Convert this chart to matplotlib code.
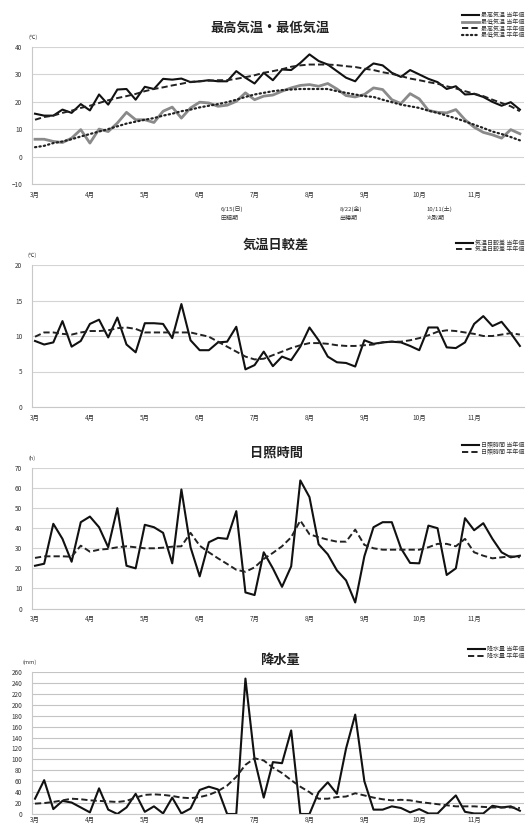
import matplotlib
matplotlib.use("Agg")
import matplotlib.pyplot as plt

plt.rcParams['font.family'] = ['Noto Sans CJK JP', 'DejaVu Sans']

# 半旬ごと（3月～11月, 54点）
months = ['3月', '4月', '5月', '6月', '7月', '8月', '9月', '10月', '11月']

tmax_now = [15.6, 14.9, 14.9, 17.1, 15.9, 19.1, 16.8, 22.6, 18.9, 24.4,
            24.6, 20.7, 25.4, 24.6, 28.3, 28.0, 28.4, 27.1, 27.4, 27.8,
            27.4, 27.4, 31.1, 28.7, 26.6, 30.5, 27.8, 31.7, 31.5, 34.1,
            37.2, 34.8, 33.5, 31.1, 28.7, 27.4, 31.5, 33.9, 33.2, 30.5,
            29.0, 31.5, 29.9, 28.3, 27.1, 24.6, 25.6, 22.6, 22.8, 21.7,
            19.9, 18.5, 19.8, 17.1]
tmin_now = [6.3, 6.3, 5.5, 5.1, 6.7, 9.8, 4.9, 10.0, 9.1, 12.2,
            16.1, 13.4, 13.4, 12.4, 16.5, 18.0, 14.0, 17.7, 19.8, 19.5,
            18.3, 18.7, 20.1, 23.2, 20.7, 22.0, 22.4, 23.8, 25.0, 25.9,
            26.2, 25.6, 26.6, 24.6, 22.2, 21.7, 22.6, 25.0, 24.4, 20.7,
            19.3, 22.9, 21.0, 16.8, 16.1, 15.9, 17.1, 13.4, 10.7, 8.8,
            7.9, 6.7, 9.8, 8.3]
tmax_norm = [13.4, 14.4, 14.9, 15.9, 16.7, 17.7, 18.5, 19.5, 20.5, 21.3,
             22.0, 22.8, 23.8, 24.6, 25.2, 25.9, 26.5, 27.2, 27.4, 27.6,
             27.8, 27.8, 28.3, 28.9, 29.6, 30.5, 31.1, 31.8, 32.7, 33.2,
             33.5, 33.5, 33.5, 33.3, 32.9, 32.6, 32.0, 31.5, 30.7, 30.1,
             29.3, 28.4, 27.8, 27.1, 26.5, 25.6, 24.8, 23.8, 22.9, 22.0,
             20.7, 19.5, 18.3, 16.5]
tmin_norm = [3.4, 3.9, 4.9, 5.5, 6.3, 7.3, 8.2, 9.1, 10.0, 11.0,
             12.0, 12.7, 13.4, 14.0, 14.9, 15.6, 16.5, 17.1, 17.9, 18.5,
             19.1, 19.8, 20.7, 21.7, 22.6, 23.2, 23.8, 24.2, 24.4, 24.6,
             24.6, 24.6, 24.6, 23.8, 23.2, 22.6, 22.0, 21.7, 20.7, 19.8,
             18.9, 18.3, 17.7, 16.7, 15.9, 14.9, 13.9, 12.8, 11.6, 10.4,
             9.1, 8.2, 7.1, 5.9]

range_now = [9.3, 8.8, 9.1, 12.1, 8.5, 9.3, 11.7, 12.3, 9.8, 12.6,
             8.8, 7.7, 11.8, 11.8, 11.7, 9.7, 14.5, 9.4, 8.0, 8.0,
             9.1, 9.2, 11.3, 5.3, 5.9, 7.8, 5.75, 7.1, 6.6, 8.5,
             11.2, 9.4, 7.1, 6.3, 6.2, 5.7, 9.4, 8.9, 9.1, 9.2,
             9.1, 8.6, 8.0, 11.2, 11.2, 8.4, 8.3, 9.1, 11.7, 12.8,
             11.4, 12.0, 10.4, 8.6]
range_norm = [9.9, 10.5, 10.5, 10.3, 10.2, 10.5, 10.7, 10.7, 10.8, 11.1,
              11.2, 11.0, 10.5, 10.5, 10.5, 10.5, 10.5, 10.5, 10.2, 9.9,
              9.2, 8.5, 7.8, 7.1, 6.7, 6.8, 7.3, 7.8, 8.3, 8.7,
              9.0, 9.0, 8.9, 8.7, 8.6, 8.6, 8.7, 8.8, 9.1, 9.2,
              9.2, 9.4, 9.7, 10.1, 10.6, 10.8, 10.7, 10.5, 10.3, 10.0,
              10.0, 10.2, 10.4, 10.2]

sun_now = [21.3, 22.3, 42.2, 34.7, 23.3, 43.0, 45.8, 40.5, 30.5, 50.0,
           21.3, 20.0, 41.7, 40.5, 37.7, 22.5, 59.3, 30.5, 16.0, 33.0,
           35.2, 34.7, 48.5, 8.0, 6.7, 28.0, 20.0, 10.8, 21.0, 63.8,
           55.5, 32.0, 27.0, 19.0, 14.0, 3.0, 26.0, 40.5, 43.0, 43.0,
           30.0, 22.7, 22.5, 41.3, 40.0, 16.7, 20.0, 45.0, 39.0, 42.5,
           34.7, 28.0, 25.5, 26.3]
sun_norm = [25.2, 26.0, 26.0, 26.0, 25.8, 31.3, 28.3, 29.3, 29.7, 30.5,
            31.0, 30.5, 30.0, 30.0, 30.3, 30.8, 31.0, 37.7, 31.3, 28.0,
            25.0, 22.2, 19.3, 18.3, 20.5, 24.7, 27.7, 31.0, 35.5, 43.8,
            37.0, 35.5, 34.3, 33.3, 33.3, 39.3, 31.7, 30.0, 29.3, 29.3,
            29.3, 29.3, 29.3, 30.5, 32.2, 32.2, 31.0, 34.7, 28.0, 26.3,
            25.0, 25.5, 26.0, 25.5]

rain_now = [28, 62, 9, 24, 21, 12, 3, 47, 8, 0,
            12, 37, 4, 14, 1, 30, 1, 10, 44, 50,
            45, 0, 0, 248, 100, 30, 95, 93, 153, 0,
            0, 40, 58, 37, 120, 182, 60, 8, 8, 14,
            11, 3, 9, 1, 1, 18, 34, 4, 1, 1,
            15, 12, 14, 6]
rain_norm = [19, 20, 22, 25, 28, 27, 25, 24, 23, 22,
             24, 30, 35, 36, 35, 33, 30, 29, 31, 35,
             42, 52, 68, 90, 102, 98, 85, 75, 62, 50,
             40, 28, 28, 31, 32, 38, 34, 30, 27, 25,
             26, 25, 22, 20, 18, 16, 14, 14, 14, 13,
             12, 12, 12, 11]

events = [(20.3, '6/15(日)', '田植期'), (33.3, '8/22(金)', '出穂期'),
          (42.8, '10/11(土)', '刈取期')]

W, H = 528, 827
fig = plt.figure(figsize=(W / 100, H / 100), dpi=100)
x = list(range(len(tmax_now)))
TXT = '#333333'
DASH = (3.2, 1.6)


def make_axes(top_px, bot_px, xpad=5):
    ax = fig.add_axes([32 / W, 1 - bot_px / H, 492 / W, (bot_px - top_px) / H])
    for s in ['top', 'right']:
        ax.spines[s].set_visible(False)
    ax.spines['left'].set_color('#c8c8c8')
    ax.spines['bottom'].set_color('#c8c8c8')
    ax.spines['left'].set_linewidth(0.8)
    ax.spines['bottom'].set_linewidth(0.8)
    ax.set_xlim(-0.33, 53.45)
    ax.set_xticks(range(0, 54, 6))
    ax.set_xticklabels(months)
    ax.tick_params(axis='both', length=0, labelsize=4.6, colors=TXT)
    ax.tick_params(axis='x', pad=xpad)
    ax.tick_params(axis='y', pad=7)
    ax.grid(axis='y', color='#d4d4d4', linewidth=0.8)
    ax.set_axisbelow(True)
    return ax


def add_title(text, cx, cy):
    fig.text(cx / W, 1 - cy / H, text, ha='center', va='center',
             fontsize=9.5, fontweight='bold', color='#222222')


def add_legend(ax, top_px):
    ax.legend(loc='upper right', bbox_to_anchor=(527 / W, 1 - top_px / H),
              bbox_transform=fig.transFigure, frameon=False, fontsize=4.3,
              handlelength=2.8, handletextpad=0.3, labelspacing=0.15,
              borderpad=0, labelcolor=TXT)


# 最高気温・最低気温
ax1 = make_axes(46.7, 184)
ax1.plot(x, tmax_now, color='#111111', lw=1.5, label='最高気温 当年値')
ax1.plot(x, tmin_now, color='#8a8a8a', lw=2.0, label='最低気温 当年値')
ax1.plot(x, tmax_norm, color='#222222', lw=1.4, dashes=DASH, label='最高気温 平年値')
ax1.plot(x, tmin_norm, color='#222222', lw=1.6, linestyle=(0, (0.6, 1.4)),
         dash_capstyle='round', label='最低気温 平年値')
ax1.set_ylim(-10, 40)
ax1.set_yticks(range(-10, 41, 10))
add_title('最高気温・最低気温', 270, 28)
add_legend(ax1, 9)
fig.text(33 / W, 1 - 37 / H, '(℃)', fontsize=4, color=TXT, ha='center', va='center')
for pos, date, stage in events:
    px = 32 + (pos + 0.33) * 492 / 53.78
    fig.text(px / W, 1 - 209 / H, date, fontsize=4.3, color=TXT, ha='left', va='center')
    fig.text(px / W, 1 - 218 / H, stage, fontsize=4.3, color=TXT, ha='left', va='center')

# 気温日較差
ax2 = make_axes(265, 407)
ax2.plot(x, range_now, color='#111111', lw=1.5, label='気温日較差 当年値')
ax2.plot(x, range_norm, color='#222222', lw=1.4, dashes=DASH, label='気温日較差 平年値')
ax2.set_ylim(0, 20)
ax2.set_yticks(range(0, 21, 5))
add_title('気温日較差', 276, 245)
add_legend(ax2, 237)
fig.text(32 / W, 1 - 255 / H, '(℃)', fontsize=4, color=TXT, ha='center', va='center')

# 日照時間
ax3 = make_axes(468, 608.5)
ax3.plot(x, sun_now, color='#111111', lw=1.5, label='日照時間 当年値')
ax3.plot(x, sun_norm, color='#222222', lw=1.4, dashes=DASH, label='日照時間 平年値')
ax3.set_ylim(0, 70)
ax3.set_yticks(range(0, 71, 10))
add_title('日照時間', 277, 452)
add_legend(ax3, 439)
fig.text(32 / W, 1 - 458 / H, '(h)', fontsize=4, color=TXT, ha='center', va='center')

# 降水量
ax4 = make_axes(672, 814, xpad=1.5)
ax4.plot(x, rain_now, color='#111111', lw=1.5, label='降水量 当年値')
ax4.plot(x, rain_norm, color='#222222', lw=1.4, dashes=DASH, label='降水量 平年値')
ax4.set_ylim(0, 260)
ax4.set_yticks(range(0, 261, 20))
ax4.grid(axis='y', color='#c4c4c4', linewidth=0.8)
add_title('降水量', 280, 660)
add_legend(ax4, 644)
fig.text(30 / W, 1 - 662 / H, '(mm)', fontsize=4, color=TXT, ha='center', va='center')

fig.savefig('out.png', dpi=100)
